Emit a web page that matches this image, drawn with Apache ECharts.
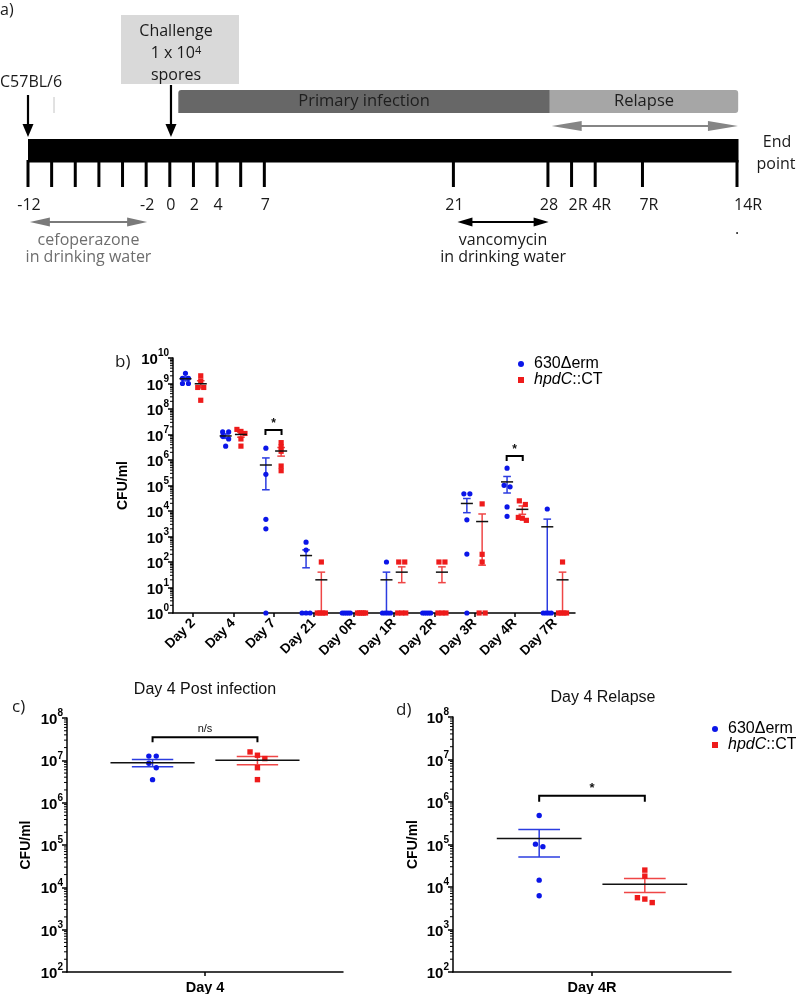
<!DOCTYPE html>
<html><head><meta charset="utf-8">
<script src="https://cdn.jsdelivr.net/npm/echarts@6/dist/echarts.min.js"></script>
<style>html,body{margin:0;padding:0;background:#fff}#c{width:796px;height:994px}</style>
</head><body><div id="c"></div>
<script>
// ---------------- data ----------------
const timeCategories = ['Day 2','Day 4','Day 7','Day 21','Day 0R','Day 1R','Day 2R','Day 3R','Day 4R','Day 7R'];
const strainNames = ['630Δerm','hpdC::CT'];
// CFU/ml per mouse (0 = below detection, drawn on the axis)
const wtCFU = [
  [2.5e9,1.6e9,1.6e9,1.0e9,1.0e9],
  [1.26e7,1.26e7,8.5e6,6.7e6,3.5e6],
  [2.9e6,2.75e5,4.7e3,2.0e3,0],
  [600,295,0,0,0],
  [0,0,0,0,0],
  [100,0,0,0,0],
  [0,0,0,0,0],
  [4.7e4,4.7e4,4.5e3,205,0],
  [4.8e5,1.02e5,8.9e4,1.45e4,6.2e3],
  [1.2e4,0,0,0,0]
];
const hpdCFU = [
  [2.0e9,1.26e9,7e8,7e8,2.2e8],
  [1.58e7,1.32e7,1.1e7,6.7e6,3.5e6],
  [4.8e6,3.3e6,2.2e6,5.8e5,3.8e5],
  [100,0,0,0,0],
  [0,0,0,0,0],
  [100,100,0,0,0],
  [100,100,0,0,0],
  [1.9e4,200,100,0,0],
  [2.5e4,1.8e4,5.6e3,5.2e3,4.3e3],
  [100,0,0,0,0]
];
const sigTimeIdx = [2, 8];
const sigTimeLevel = [1.5e7, 1.45e6];
const sigTimeText = ['*', '*'];
const day4Category = ['Day 4'];
const day4SigLevel = [3.5e7];
const day4SigText = ['n/s'];
const day4RCategory = ['Day 4R'];
const day4RSigLevel = [1.4e6];
const day4RSigText = ['*'];
// y-axis decades (exponents of 10) for each panel
const timeAxisExp = [0, 10];
const day4AxisExp = [2, 8];
// timeline (panel a), positions in evenly spaced timeline slots
const timelineTickSlots = [0,1,2,3,4,5,6,7,8,9,10,18,22,23,24,26,30];
const timelineTickLabels = ['-12','','','','','-2','0','2','4','','7','21','28','2R','4R','7R','14R'];
const phaseNames = ['Primary infection','Relapse'];
const phaseStart = [6.36, 22.08];
const phaseEnd = [22.08, 30.05];
const relapseArrowSpan = [22.16, 30.04];
const treatmentNames = [['cefoperazone','in drinking water'],['vancomycin','in drinking water']];
const treatmentStart = [0.08, 18.17];
const treatmentEnd = [5.04, 22.03];
const eventNames = ['C57BL/6','Challenge'];
const eventSlots = [0, 6.05];

// ---------------- styling ----------------
const FONT_A = '"Open Sans", "Noto Sans", sans-serif';
const FONT_B = '"Liberation Sans", Arial, sans-serif';
const BLUE = '#0b16e8', RED = '#ee1b1b';
const BLUE_BAR = '#2b3ce0', RED_BAR = '#ef4646';

function stats(vals){
  const n = vals.length;
  const m = vals.reduce((a,b)=>a+b,0)/n;
  const sd = Math.sqrt(vals.reduce((a,v)=>a+(v-m)*(v-m),0)/(n-1));
  return {mean:m, sem:sd/Math.sqrt(n)};
}
function buildData(groups){
  return groups.map((vals,i)=>{ const s = stats(vals); return [i, s.mean, s.mean - s.sem, s.mean + s.sem].concat(vals); });
}

function strainRender(cfg){
  return function(params, api){
    const cat = api.value(0);
    const band = api.size([1,1])[0];
    const cx = api.coord([cat, cfg.floor])[0] + cfg.offset*band;
    const mean = api.value(1), lo = api.value(2), hi = api.value(3);
    const bars = [], dots = [], meanEl = [];
    if (mean > 0) {
      const yh = api.coord([cat, hi])[1];
      const yl = api.coord([cat, Math.max(lo, cfg.floor)])[1];
      const ym = api.coord([cat, Math.max(mean, cfg.floor)])[1];
      const cw = cfg.capFrac*band/2, mw = cfg.meanFrac*band/2;
      const st = {stroke:cfg.barColor, lineWidth:cfg.lw};
      bars.push({type:'line', shape:{x1:cx,y1:yh,x2:cx,y2:yl}, style:st});
      bars.push({type:'line', shape:{x1:cx-cw,y1:yh,x2:cx+cw,y2:yh}, style:st});
      if (lo > cfg.floor) bars.push({type:'line', shape:{x1:cx-cw,y1:yl,x2:cx+cw,y2:yl}, style:st});
      meanEl.push({type:'line', shape:{x1:cx-mw,y1:ym,x2:cx+mw,y2:ym}, style:{stroke:'#111', lineWidth:cfg.lw}});
    }
    const ys = [];
    for (let i = 0; i < cfg.n; i++) ys.push(api.coord([cat, Math.max(api.value(4+i), cfg.floor)])[1]);
    ys.sort((a,b)=>a-b);
    const clusters = []; let cur = [ys[0]];
    for (let i = 1; i < ys.length; i++) {
      if (ys[i] - ys[i-1] < cfg.thresh) cur.push(ys[i]); else { clusters.push(cur); cur = [ys[i]]; }
    }
    clusters.push(cur);
    clusters.forEach(cl => {
      const k = cl.length;
      const sp = k > 1 ? Math.min(cfg.spacing, cfg.maxSpread*band/(k-1)) : 0;
      cl.forEach((y,j) => {
        const x = cx + (j-(k-1)/2)*sp;
        dots.push(cfg.shape === 'circle'
          ? {type:'circle', shape:{cx:x, cy:y, r:cfg.r}, style:{fill:cfg.color}}
          : {type:'rect', shape:{x:x-cfg.r, y:y-cfg.r, width:2*cfg.r, height:2*cfg.r}, style:{fill:cfg.color}});
      });
    });
    return {type:'group', children: bars.concat(dots, meanEl)};
  };
}

function sigRender(cfg, texts){
  return function(params, api){
    const cat = api.value(0), lvl = api.value(1);
    const band = api.size([1,1])[0];
    const p = api.coord([cat, lvl]);
    const x1 = p[0] - cfg.offset*band, x2 = p[0] + cfg.offset*band, y = p[1];
    return {type:'group', children:[
      {type:'polyline', shape:{points:[[x1,y+cfg.drop],[x1,y],[x2,y],[x2,y+cfg.drop]]}, style:{stroke:'#000', lineWidth:cfg.lw, fill:null}},
      {type:'text', style:{text:texts[params.dataIndex], x:(x1+x2)/2, y:y-cfg.textGap, align:'center', verticalAlign:'bottom', font:cfg.font, fill:'#111'}}
    ]};
  };
}

// log-spaced minor ticks (2..9 x 10^n) drawn at the y axis
function minorTickSeries(gx, exps){
  const data = [];
  for (let e = exps[0]; e < exps[1]; e++) for (let k = 2; k <= 9; k++) data.push([0, k*Math.pow(10, e)]);
  return {type:'custom', coordinateSystem:'cartesian2d', xAxisIndex:gx, yAxisIndex:gx, silent:true, data,
    renderItem:(params, api)=>{
      const x = params.coordSys.x;
      const y = api.coord([0, api.value(1)])[1];
      return {type:'line', shape:{x1:x-3, y1:y, x2:x, y2:y}, style:{stroke:'#000', lineWidth:1}};
    }};
}

function strainSeries(name, gx, data, cfg){
  return {type:'custom', name, coordinateSystem:'cartesian2d', xAxisIndex:gx, yAxisIndex:gx,
    itemStyle:{color:cfg.color}, data, renderItem:strainRender(cfg), encode:{x:0, y:[1,3]}, silent:true, z:3};
}

const cfgB = {capFrac:0.19, meanFrac:0.3, r:2.6, spacing:6, maxSpread:0.2, thresh:4, floor:1, lw:1.5, n:5};
const cfgCD = {capFrac:0.15, meanFrac:0.305, r:2.7, spacing:7.4, maxSpread:0.2, thresh:4.5, floor:100, lw:1.5, n:5};
function withStrain(base, idx){
  return Object.assign({}, base, idx === 0
    ? {offset:-0.19, color:BLUE, barColor:BLUE_BAR, shape:'circle'}
    : {offset:0.19, color:RED, barColor:RED_BAR, shape:'rect'});
}

function logAxis(grid, exps, nameGap){
  return {gridIndex:grid, type:'log', logBase:10, min:Math.pow(10, exps[0]), max:Math.pow(10, exps[1]),
    interval:1, splitNumber:exps[1]-exps[0],
    axisLine:{show:true, lineStyle:{color:'#000', width:1.5}},
    axisTick:{show:true, length:5, lineStyle:{color:'#000', width:1.5}},
    minorTick:{show:false},
    splitLine:{show:false}, minorSplitLine:{show:false},
    axisLabel:{margin:4, color:'#000', showMinLabel:true, showMaxLabel:true,
      formatter: v => '{b|10}{s|' + Math.round(Math.log10(v)) + '}',
      rich:{b:{fontFamily:FONT_B, fontSize:15, fontWeight:'bold', color:'#000', lineHeight:19, verticalAlign:'bottom'},
            s:{fontFamily:FONT_B, fontSize:10, fontWeight:'bold', color:'#000', lineHeight:11, verticalAlign:'top'}}},
    name:'CFU/ml', nameLocation:'middle', nameGap, nameRotate:90,
    nameTextStyle:{fontFamily:FONT_B, fontSize:14, fontWeight:'bold', color:'#000'}};
}
function catAxis(grid, data, label){
  return {gridIndex:grid, type:'category', data,
    axisLine:{show:true, lineStyle:{color:'#000', width:1.5}},
    axisTick:{show:true, alignWithLabel:true, length:4, lineStyle:{color:'#000', width:1.5}},
    splitLine:{show:false}, axisLabel:label};
}

// ---------------- panel a renderers ----------------
function px(api, s){ return api.coord([s, 0])[0]; }
function dblArrow(x1, x2, y, color, lw, hl, hw){
  return [
    {type:'line', shape:{x1:x1+hl*0.7, y1:y, x2:x2-hl*0.7, y2:y}, style:{stroke:color, lineWidth:lw}},
    {type:'polygon', shape:{points:[[x1,y],[x1+hl,y-hw/2],[x1+hl,y+hw/2]]}, style:{fill:color}},
    {type:'polygon', shape:{points:[[x2,y],[x2-hl,y-hw/2],[x2-hl,y+hw/2]]}, style:{fill:color}}
  ];
}
function downArrow(x, y1, y2){
  return [
    {type:'line', shape:{x1:x, y1:y1, x2:x, y2:y2-10}, style:{stroke:'#000', lineWidth:2.2}},
    {type:'polygon', shape:{points:[[x-5.5,y2-13],[x+5.5,y2-13],[x,y2]]}, style:{fill:'#000'}}
  ];
}
function tText(text, x, y, align, color, size){
  return {type:'text', style:{text, x, y, align:align||'center', verticalAlign:'middle', font:(size||16)+'px '+FONT_A, fill:color||'#1a1a1a'}};
}

const timelineSeries = [
  {type:'custom', coordinateSystem:'cartesian2d', xAxisIndex:3, yAxisIndex:3, silent:true,
   data:[[timelineTickSlots[0], timelineTickSlots[timelineTickSlots.length-1]]],
   renderItem:(params, api)=>{
     const x1 = px(api, api.value(0)), x2 = px(api, api.value(1));
     return {type:'rect', shape:{x:x1, y:139, width:x2-x1+1.5, height:23.5}, style:{fill:'#000'}};
   }},
  {type:'custom', coordinateSystem:'cartesian2d', xAxisIndex:3, yAxisIndex:3, silent:true,
   data:timelineTickSlots.map((s,i)=>[s,i]),
   renderItem:(params, api)=>{
     const x = px(api, api.value(0));
     const lab = timelineTickLabels[params.dataIndex];
     const isR = /R$/.test(lab);
     return {type:'group', children:[
       {type:'line', shape:{x1:x, y1:160, x2:x, y2:187}, style:{stroke:'#000', lineWidth:3}},
       tText(lab, isR ? x-3 : x+1, 205, isR ? 'left' : 'center', '#1a1a1a', 16)
     ]};
   }},
  {type:'custom', coordinateSystem:'cartesian2d', xAxisIndex:3, yAxisIndex:3, silent:true,
   data:phaseStart.map((s,i)=>[s, phaseEnd[i]]),
   renderItem:(params, api)=>{
     const i = params.dataIndex;
     const x1 = px(api, api.value(0)), x2 = px(api, api.value(1));
     return {type:'group', children:[
       {type:'rect', shape:{x:x1, y:90, width:x2-x1, height:23, r: i===1 ? [0,3,3,0] : [3,0,0,0]}, style:{fill: i===0 ? '#676767' : '#a6a6a6'}},
       tText(phaseNames[i], (x1+x2)/2, 101, 'center', '#1e1e1e', 16.5)
     ]};
   }},
  {type:'custom', coordinateSystem:'cartesian2d', xAxisIndex:3, yAxisIndex:3, silent:true,
   data:[relapseArrowSpan],
   renderItem:(params, api)=>({type:'group', children:dblArrow(px(api, api.value(0)), px(api, api.value(1)), 126, '#858585', 2, 30, 10)})},
  {type:'custom', coordinateSystem:'cartesian2d', xAxisIndex:3, yAxisIndex:3, silent:true,
   data:treatmentStart.map((s,i)=>[s, treatmentEnd[i]]),
   renderItem:(params, api)=>{
     const i = params.dataIndex;
     const x1 = px(api, api.value(0)), x2 = px(api, api.value(1));
     const col = i === 0 ? '#7a7a7a' : '#000';
     const tcol = i === 0 ? '#6e6e6e' : '#1a1a1a';
     const xc = (x1+x2)/2;
     return {type:'group', children: dblArrow(x1, x2, 222, col, 2, i === 0 ? 20 : 15, 9).concat([
       tText(treatmentNames[i][0], xc, 240, 'center', tcol, 16),
       tText(treatmentNames[i][1], xc, 257, 'center', tcol, 16)
     ])};
   }},
  {type:'custom', coordinateSystem:'cartesian2d', xAxisIndex:3, yAxisIndex:3, silent:true,
   data:eventSlots.map((s,i)=>[s,i]),
   renderItem:(params, api)=>{
     const i = params.dataIndex;
     const x = px(api, api.value(0));
     if (i === 0) {
       return {type:'group', children: [
         tText(eventNames[0], x-28, 82, 'left', '#1a1a1a', 16),
         {type:'line', shape:{x1:x+26, y1:97, x2:x+26, y2:113}, style:{stroke:'#c4c4c4', lineWidth:1}}
       ].concat(downArrow(x, 95, 137))};
     }
     return {type:'group', children: [
       {type:'rect', shape:{x:x-50, y:15, width:118, height:69}, style:{fill:'#d9d9d9'}},
       tText(eventNames[1], x+5, 31, 'center', '#1a1a1a', 16),
       {type:'text', style:{text:'1 x 10{s|4}', x:x+5, y:53, align:'center', verticalAlign:'middle', font:'16px '+FONT_A, fill:'#1a1a1a',
         rich:{s:{fontSize:11, fontFamily:FONT_A, fill:'#1a1a1a', verticalAlign:'top', lineHeight:10}}}},
       tText('spores', x+5, 75, 'center', '#1a1a1a', 16)
     ].concat(downArrow(x, 85, 137))};
   }}
];

// ---------------- option ----------------
const legendCommon = {
  orient:'vertical', itemWidth:6, itemHeight:6, itemGap:0, selectedMode:false,
  data:[{name:strainNames[0], icon:'circle'},{name:strainNames[1], icon:'rect'}],
  formatter: n => n === strainNames[1] ? '{i|hpdC}{t|::CT}' : '{t|' + n + '}',
  textStyle:{fontFamily:FONT_B, fontSize:16, color:'#000', padding:[0,0,0,5],
    rich:{i:{fontFamily:FONT_B, fontSize:16, fontStyle:'italic', color:'#000'}, t:{fontFamily:FONT_B, fontSize:16, color:'#000'}}}
};

const option = {
  animation:false,
  backgroundColor:'#fff',
  grid:[
    {left:173, top:358, width:402, height:255, outerBoundsMode:'none'},
    {left:67, top:718, width:276, height:254, outerBoundsMode:'none'},
    {left:453, top:717, width:278, height:255, outerBoundsMode:'none'},
    {left:28, top:0, width:709, height:270, outerBoundsMode:'none'}
  ],
  xAxis:[
    catAxis(0, timeCategories, {rotate:45, margin:8, interval:0, color:'#000', fontFamily:FONT_B, fontSize:13.5, fontWeight:'bold'}),
    catAxis(1, day4Category, {margin:8, color:'#000', fontFamily:FONT_B, fontSize:14.5, fontWeight:'bold'}),
    catAxis(2, day4RCategory, {margin:8, color:'#000', fontFamily:FONT_B, fontSize:14.5, fontWeight:'bold'}),
    {gridIndex:3, type:'value', min:0, max:30, show:false}
  ],
  yAxis:[
    logAxis(0, timeAxisExp, 35),
    logAxis(1, day4AxisExp, 34),
    logAxis(2, day4AxisExp, 33),
    {gridIndex:3, type:'value', min:0, max:1, show:false}
  ],
  legend:[
    Object.assign({left:513, top:351}, legendCommon),
    Object.assign({left:707, top:716}, legendCommon)
  ],
  graphic:[
    {type:'text', left:0, top:2, style:{text:'a)', font:'16px '+FONT_A, fill:'#1a1a1a'}},
    {type:'text', x:777, y:142, style:{text:'End', align:'center', verticalAlign:'middle', font:'16px '+FONT_A, fill:'#1a1a1a'}},
    {type:'text', x:776, y:164, style:{text:'point', align:'center', verticalAlign:'middle', font:'16px '+FONT_A, fill:'#1a1a1a'}},
    {type:'text', x:737, y:229, style:{text:'.', align:'center', verticalAlign:'middle', font:'16px '+FONT_A, fill:'#1a1a1a'}},
    {type:'text', x:115, y:362, style:{text:'b)', align:'left', verticalAlign:'middle', font:'17px '+FONT_A, fill:'#1a1a1a'}},
    {type:'text', x:12, y:707, style:{text:'c)', align:'left', verticalAlign:'middle', font:'17px '+FONT_A, fill:'#1a1a1a'}},
    {type:'text', x:396, y:710, style:{text:'d)', align:'left', verticalAlign:'middle', font:'17px '+FONT_A, fill:'#1a1a1a'}},
    {type:'text', x:205, y:690, style:{text:'Day 4 Post infection', align:'center', verticalAlign:'middle', font:'16px '+FONT_B, fill:'#111'}},
    {type:'text', x:603, y:698, style:{text:'Day 4 Relapse', align:'center', verticalAlign:'middle', font:'16px '+FONT_B, fill:'#111'}}
  ],
  series: timelineSeries.concat([
    minorTickSeries(0, timeAxisExp),
    minorTickSeries(1, day4AxisExp),
    minorTickSeries(2, day4AxisExp),
    strainSeries(strainNames[0], 0, buildData(wtCFU), withStrain(cfgB, 0)),
    strainSeries(strainNames[1], 0, buildData(hpdCFU), withStrain(cfgB, 1)),
    {type:'custom', coordinateSystem:'cartesian2d', xAxisIndex:0, yAxisIndex:0, silent:true,
     data:sigTimeIdx.map((c,i)=>[c, sigTimeLevel[i]]),
     renderItem:sigRender({offset:0.2, drop:5, lw:2, textGap:0, font:'bold 12px '+FONT_B}, sigTimeText)},
    strainSeries(strainNames[0], 1, buildData([wtCFU[1]]), withStrain(cfgCD, 0)),
    strainSeries(strainNames[1], 1, buildData([hpdCFU[1]]), withStrain(cfgCD, 1)),
    {type:'custom', coordinateSystem:'cartesian2d', xAxisIndex:1, yAxisIndex:1, silent:true,
     data:day4SigLevel.map(l=>[0, l]),
     renderItem:sigRender({offset:0.19, drop:5, lw:2, textGap:3, font:'11px '+FONT_B}, day4SigText)},
    strainSeries(strainNames[0], 2, buildData([wtCFU[8]]), withStrain(cfgCD, 0)),
    strainSeries(strainNames[1], 2, buildData([hpdCFU[8]]), withStrain(cfgCD, 1)),
    {type:'custom', coordinateSystem:'cartesian2d', xAxisIndex:2, yAxisIndex:2, silent:true,
     data:day4RSigLevel.map(l=>[0, l]),
     renderItem:sigRender({offset:0.19, drop:6, lw:2, textGap:1, font:'bold 13px '+FONT_B}, day4RSigText)}
  ])
};

const chart = echarts.init(document.getElementById('c'), null, {renderer:'canvas', width:796, height:994});
chart.setOption(option);
</script>
</body></html>
